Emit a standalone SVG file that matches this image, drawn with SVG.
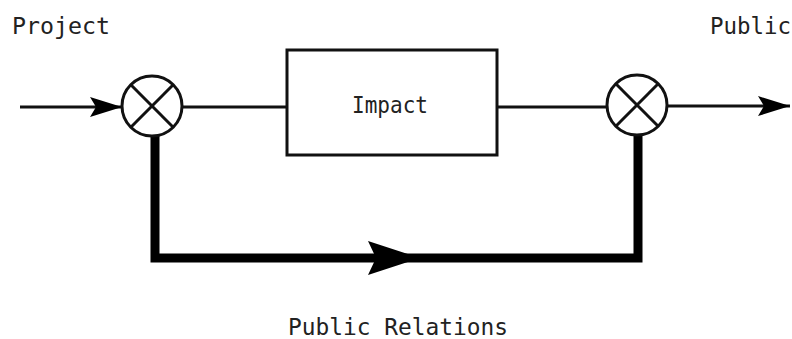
<svg xmlns="http://www.w3.org/2000/svg" width="792" height="339" viewBox="0 0 792 339">
  <style>
    .lbl { font-family: "DejaVu Sans Mono", "Liberation Mono", monospace; font-size: 23px; fill: #222; }
    .thin { stroke: #111; stroke-width: 3; fill: none; }
    .thick { stroke: #000; stroke-width: 9; fill: none; stroke-linejoin: miter; }
    .node { stroke: #111; stroke-width: 3; fill: #fff; }
  </style>
  <defs>
    <marker id="ah" viewBox="0 0 32 20" refX="32" refY="10" markerWidth="32" markerHeight="20" markerUnits="userSpaceOnUse" orient="auto">
      <path d="M0,0 L32,10 L0,20 L6,10 Z" fill="#000"/>
    </marker>
    <marker id="ahbig" viewBox="0 0 52 34" refX="52" refY="17" markerWidth="52" markerHeight="34" markerUnits="userSpaceOnUse" orient="auto">
      <path d="M0,0 L52,17 L0,34 L8,17 Z" fill="#000"/>
    </marker>
  </defs>
  <rect width="792" height="339" fill="#fff"/>
  <g id="connectors">
    <line class="thin" x1="20" y1="107" x2="122" y2="107" marker-end="url(#ah)"/>
    <line class="thin" x1="182" y1="107" x2="287" y2="107"/>
    <line class="thin" x1="497" y1="107" x2="607" y2="107"/>
    <line class="thin" x1="667" y1="106" x2="790" y2="106" marker-end="url(#ah)"/>
    <path class="thick" d="M155,136 L155,258 L638,258 L638,134"/>
    <line x1="300" y1="258" x2="420" y2="258" stroke="none" marker-end="url(#ahbig)"/>
  </g>
  <g id="sum1">
    <circle class="node" cx="152" cy="106" r="30"/>
    <line class="thin" x1="130.8" y1="84.8" x2="173.2" y2="127.2"/>
    <line class="thin" x1="173.2" y1="84.8" x2="130.8" y2="127.2"/>
  </g>
  <g id="impact">
    <rect class="node" x="287" y="50" width="210" height="105" stroke-width="2.5"/>
    <text class="lbl" x="390" y="113" text-anchor="middle" textLength="76" lengthAdjust="spacingAndGlyphs">Impact</text>
  </g>
  <g id="sum2">
    <circle class="node" cx="637" cy="105" r="30"/>
    <line class="thin" x1="615.8" y1="83.8" x2="658.2" y2="126.2"/>
    <line class="thin" x1="658.2" y1="83.8" x2="615.8" y2="126.2"/>
  </g>
  <g id="labels">
    <text class="lbl" x="12" y="34" textLength="98" lengthAdjust="spacingAndGlyphs">Project</text>
    <text class="lbl" x="710" y="34" textLength="81" lengthAdjust="spacingAndGlyphs">Public</text>
    <text class="lbl" x="288" y="335" textLength="220" lengthAdjust="spacingAndGlyphs">Public Relations</text>
  </g>
</svg>
